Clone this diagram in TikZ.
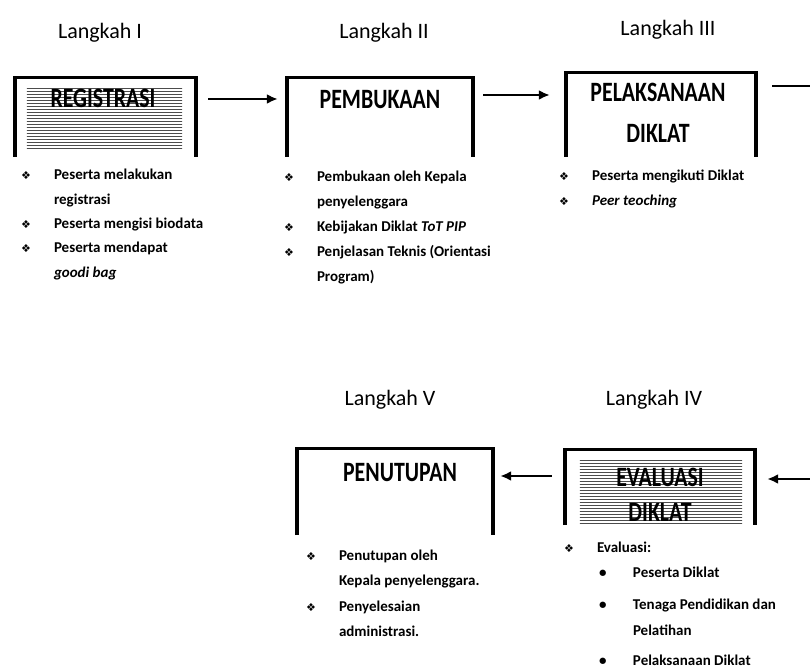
\documentclass[tikz,border=0pt]{standalone}
\usepackage{fontspec}
\setmainfont{Carlito}
\newfontfamily\dingfont{DejaVu Sans}
\newfontfamily\condfont[FakeStretch=0.78]{Carlito}
\usetikzlibrary{positioning,arrows.meta,patterns}

\newcommand{\bul}{\makebox[33pt][l]{\dingfont\fontsize{11}{11}\selectfont ❖}}
\newcommand{\subbul}{\makebox[36pt][l]{\hspace{2pt}•}}

\begin{document}
\begin{tikzpicture}[
				x=1pt, y=1pt,
				stepbox/.style={inner sep=0pt, anchor=south},
				frame/.style={line width=3.5pt, line join=miter},
				steplabel/.style={inner sep=0pt, font=\condfont\fontsize{28}{28}\selectfont\bfseries, align=center},
				langkah/.style={inner sep=0pt, font=\fontsize{22}{22}\selectfont},
				itemlist/.style={inner sep=0pt, anchor=base west, font=\fontsize{15}{24.3}\selectfont\bfseries},
				itemlist2/.style={itemlist, font=\fontsize{15}{25.5}\selectfont\bfseries},
				hatch/.style={pattern=horizontal lines, pattern color=black!70},
				flow/.style={line width=2.5pt, -{Latex[length=11pt,width=10pt]}},
				]
				\useasboundingbox (0,0) rectangle (810,-668);
				
				%Boxes
				\node[stepbox, minimum width=181pt, minimum height=79pt](reg) at (105.5,-157) {};
				\node[stepbox, minimum width=186pt, minimum height=79pt](pem) at (380,-157) {};
				\node[stepbox, minimum width=190pt, minimum height=84pt](pel) at (661,-157) {};
				\node[stepbox, minimum width=190pt, minimum height=75pt](eva) at (660,-525) {};
				\node[stepbox, minimum width=196pt, minimum height=86pt](tut) at (395,-535) {};
				
				\draw[frame] (reg.south west) |- (reg.north east) -- (reg.south east);
				\draw[frame] (pem.south west) |- (pem.north east) -- (pem.south east);
				\draw[frame] (pel.south west) |- (pel.north east) -- (pel.south east);
				\draw[frame] (eva.south west) |- (eva.north east) -- (eva.south east);
				\draw[frame] (tut.south west) |- (tut.north east) -- (tut.south east);
				
				\fill[hatch] ([shift={(12pt,7pt)}]reg.south west) rectangle ([shift={(-14pt,-9pt)}]reg.north east);
				\fill[hatch] ([shift={(15pt,2pt)}]eva.south west) rectangle ([shift={(-13pt,-11pt)}]eva.north east);
				
				%Labels
				\node[steplabel, below=11pt of reg.north, xshift=-2.5pt](regt){REGISTRASI};
				\node[steplabel, below=13pt of pem.north](pemt){PEMBUKAAN};
				\node[steplabel, below=10pt of pel.north, xshift=-3pt](pelt){PELAKSANAAN\\[13pt]DIKLAT};
				\node[steplabel, below=18pt of eva.north](evat){EVALUASI\\[7pt]DIKLAT};
				\node[steplabel, below=15pt of tut.north, xshift=5pt](tutt){PENUTUPAN};
				
				\node[langkah, above=35pt of reg, xshift=-5.5pt](step1){Langkah I};
				\node[langkah, above=35pt of pem, xshift=4pt](step2){Langkah II};
				\node[langkah, above=33pt of pel, xshift=7pt](step3){Langkah III};
				\node[langkah, above=40pt of eva, xshift=-6pt](step4){Langkah IV};
				\node[langkah, above=39pt of tut, xshift=-5pt](step5){Langkah V};
				
				%Lists
				\node[itemlist](regl) at ([shift={(6pt,-23pt)}]reg.south west){%
					\begin{tabular}[t]{@{}l@{}l@{}}
					\bul & Peserta melakukan\\
					& registrasi\\
					\bul & Peserta mengisi biodata\\
					\bul & Peserta mendapat\\
					& \textit{goodi bag}
					\end{tabular}};
				\node[itemlist, font=\fontsize{15}{25}\selectfont\bfseries](peml) at ([shift={(-3pt,-25pt)}]pem.south west){%
					\begin{tabular}[t]{@{}l@{}l@{}}
					\bul & Pembukaan oleh Kepala\\
					& penyelenggara\\
					\bul & Kebijakan Diklat \textit{ToT PIP}\\
					\bul & Penjelasan Teknis (Orientasi\\
					& Program)
					\end{tabular}};
				\node[itemlist](pell) at ([shift={(-7pt,-24pt)}]pel.south west){%
					\begin{tabular}[t]{@{}l@{}l@{}}
					\bul & Peserta mengikuti Diklat\\
					\bul & \textit{Peer teoching}
					\end{tabular}};
				\node[itemlist2](eval) at ([shift={(-1pt,-27pt)}]eva.south west){%
					\begin{tabular}[t]{@{}l@{}l@{}}
					\bul & Evaluasi:\\
					& \subbul Peserta Diklat\\[6.5pt]
					& \subbul Tenaga Pendidikan dan\\
					& \hspace*{36pt}Pelatihan\\[4.5pt]
					& \subbul Pelaksanaan Diklat
					\end{tabular}};
				\node[itemlist2](tutl) at ([shift={(9pt,-25pt)}]tut.south west){%
					\begin{tabular}[t]{@{}l@{}l@{}}
					\bul & Penutupan oleh\\
					& Kepala penyelenggara.\\
					\bul & Penyelesaian\\
					& administrasi.
					\end{tabular}};
				
				%Lines
				\coordinate (edge3) at (810,-86);
				\coordinate (edge4) at (810,-479);
				
				\draw[flow] ([shift={(12pt,58pt)}]reg.south east) -- ([shift={(-9pt,58pt)}]pem.south west);
				\draw[flow] ([shift={(10pt,62pt)}]pem.south east) -- ([shift={(-16pt,62pt)}]pel.south west);
				\draw[line width=2.5pt] ([shift={(16pt,71pt)}]pel.south east) -- (edge3);
				\draw[flow] (edge4) -- ([shift={(12pt,46pt)}]eva.south east);
				\draw[flow] ([shift={(-13pt,49pt)}]eva.south west) -- ([shift={(7pt,59pt)}]tut.south east);
				
\end{tikzpicture}
\end{document}
